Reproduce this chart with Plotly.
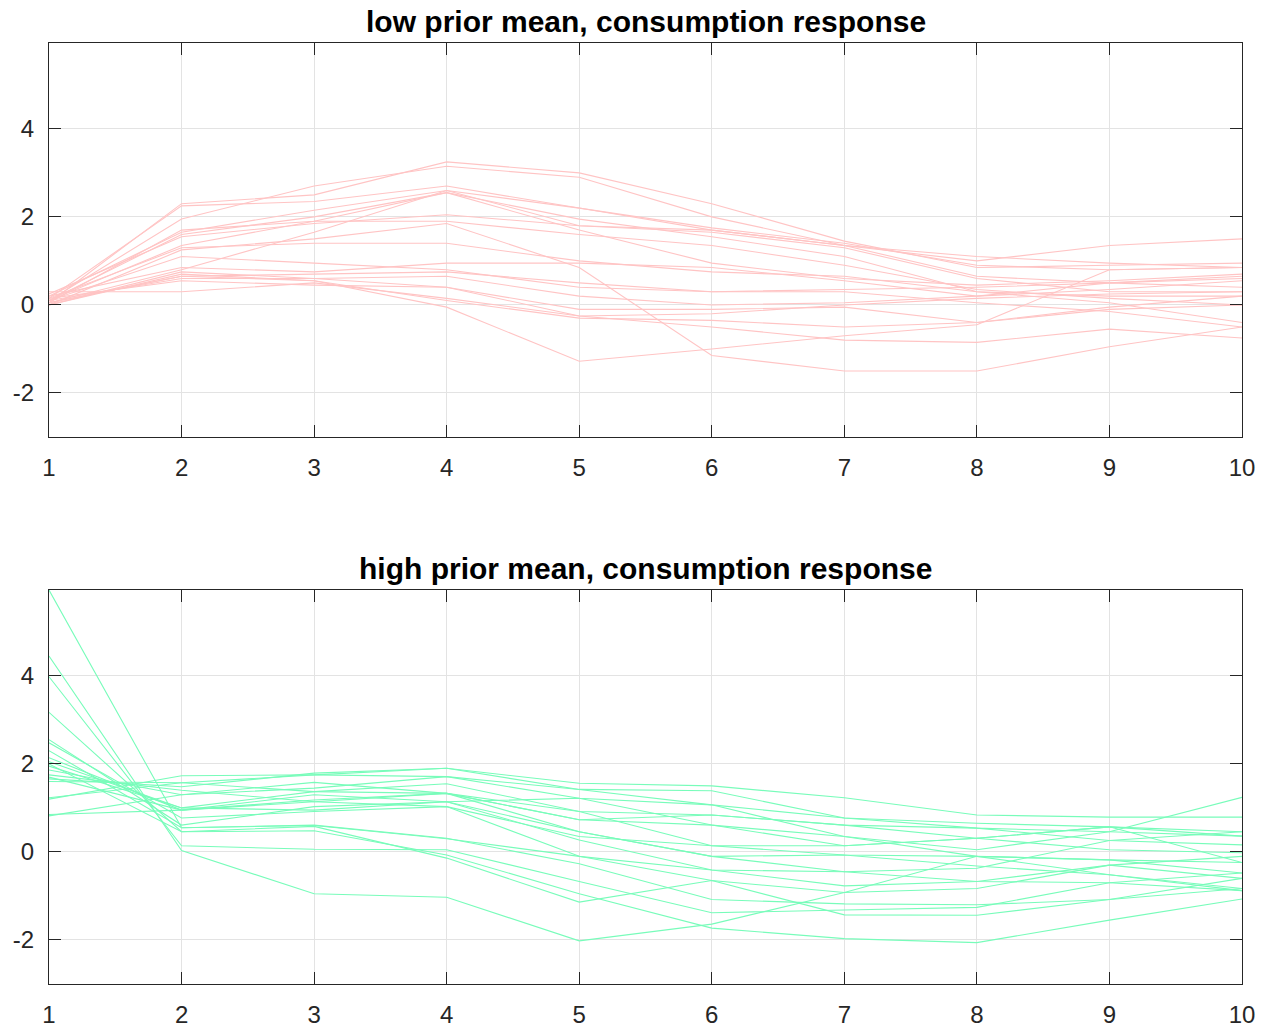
import plotly.graph_objects as go
from plotly.subplots import make_subplots

horizons = [1, 2, 3, 4, 5, 6, 7, 8, 9, 10]

low_prior = [
    [0.05, 2.3, 2.5, 3.25, 3.0, 2.3, 1.45, 0.85, 0.9, 0.95],
    [0.1, 1.95, 2.7, 3.15, 2.9, 2.0, 1.35, 1.1, 0.95, 0.85],
    [0.15, 2.25, 2.35, 2.7, 2.2, 1.7, 1.35, 0.65, 0.5, 0.4],
    [0.2, 1.65, 2.15, 2.6, 2.2, 1.75, 1.4, 0.9, 0.8, 0.85],
    [0.1, 1.6, 2.0, 2.55, 1.95, 1.55, 1.1, 0.3, 0.2, 0.2],
    [0.05, 1.7, 1.9, 2.55, 1.7, 0.95, 0.6, 0.45, 0.55, 0.7],
    [0.05, 0.8, 1.65, 2.6, 1.8, 1.65, 1.3, 0.6, 0.3, 0.3],
    [0.25, 1.55, 1.85, 2.05, 1.8, 1.7, 1.35, 1.0, 1.35, 1.5],
    [0.1, 1.35, 1.9, 1.9, 1.6, 1.35, 0.9, 0.35, 0.15, 0.0],
    [0.0, 1.25, 1.5, 1.85, 0.85, -1.15, -1.5, -1.5, -0.95, -0.5],
    [0.15, 1.3, 1.4, 1.4, 1.0, 0.75, 0.65, 0.3, 0.05, -0.4],
    [0.1, 1.1, 0.95, 0.8, 0.4, 0.3, 0.3, 0.05, -0.15, -0.5],
    [0.2, 0.85, 0.75, 0.95, 0.95, 0.85, 0.55, 0.2, 0.35, 0.55],
    [0.05, 0.65, 0.7, 0.75, 0.5, 0.3, 0.35, 0.4, 0.5, 0.65],
    [0.0, 0.75, 0.6, 0.65, 0.2, 0.0, 0.05, 0.2, 0.5, 0.6],
    [0.1, 0.6, 0.6, 0.4, -0.25, -0.2, 0.0, 0.15, 0.25, 0.3],
    [0.15, 0.55, 0.45, 0.4, -0.1, -0.1, -0.05, -0.4, -0.1, 0.0],
    [0.05, 0.65, 0.55, 0.1, -0.3, -0.35, -0.5, -0.4, -0.05, 0.2],
    [0.0, 0.7, 0.55, -0.05, -1.28, -1.0, -0.7, -0.45, 0.8, 0.85],
    [0.3, 0.3, 0.5, 0.15, -0.25, -0.5, -0.8, -0.85, -0.55, -0.75],
]

high_prior = [
    [5.95, 0.55, 0.6, 0.3, -0.1, -0.41, -0.45, -0.67, -0.7, -0.88],
    [4.45, 0.03, -0.95, -1.03, -2.02, -1.64, -0.92, -0.83, -0.3, -0.6],
    [3.98, 0.14, 0.06, 0.05, -0.67, -1.38, -1.32, -1.26, -0.7, -0.48],
    [3.17, 0.46, 0.48, -0.07, -0.95, -1.73, -1.97, -2.06, -1.55, -1.07],
    [2.55, 0.61, 1.03, 1.14, 0.46, -0.1, -0.07, -0.32, -0.52, -0.83],
    [2.48, 0.77, 0.92, 1.03, 0.35, 0.14, 0.14, 0.31, 0.57, 0.36],
    [2.14, 0.95, 1.18, 1.33, 0.73, 0.61, 0.35, -0.1, -0.18, -0.24],
    [2.05, 1.0, 1.37, 1.55, 0.92, 0.84, 0.61, 0.54, 0.26, 0.16],
    [1.86, 1.3, 1.45, 1.71, 1.22, 1.07, 0.77, 0.65, 0.57, 0.46],
    [1.66, 1.48, 1.79, 1.9, 1.56, 1.5, 1.23, 0.84, 0.79, 0.79],
    [1.23, 1.57, 1.75, 1.9, 1.42, 1.39, 0.77, 0.54, 0.46, 0.36],
    [1.2, 1.73, 1.75, 1.71, 1.42, 1.07, 0.35, 0.05, 0.46, 1.24],
    [0.82, 1.3, 1.58, 1.33, 0.46, -0.1, -0.45, -0.37, 0.26, 0.46],
    [0.85, 0.95, 1.3, 1.14, 0.27, -0.41, -0.77, -0.67, -0.3, -0.1],
    [2.3, 0.55, 0.61, 0.31, -0.27, -1.08, -1.18, -1.2, -1.08, -0.6],
    [1.75, 1.4, 1.14, 1.03, -0.1, -0.65, -1.43, -1.44, -1.08, -0.83],
    [1.95, 1.0, 0.95, 1.14, 1.22, 0.61, 0.14, 0.31, 0.05, -0.02],
    [2.0, 0.46, 0.58, -0.14, -1.14, -0.65, -0.92, -0.1, -0.18, -0.48],
    [1.6, 1.57, 1.37, 1.33, 0.92, 0.14, -0.07, -0.1, -0.52, -0.88],
    [1.7, 0.95, 1.14, 1.33, 0.73, 0.84, 0.61, 0.31, 0.57, -0.24],
]

titles = ["low prior mean, consumption response", "high prior mean, consumption response"]
y_ticks = [-2, 0, 2, 4]
y_tick_labels = ["-2", "0", "2", "4"]
x_tick_labels = [str(h) for h in horizons]

FONT = "Liberation Sans, Arial, Helvetica, sans-serif"

fig = make_subplots(rows=2, cols=1, vertical_spacing=0.1626)

for series in low_prior:
    fig.add_trace(go.Scatter(x=horizons, y=series, mode="lines",
                             line=dict(color="rgb(255,196,196)", width=1.1),
                             showlegend=False, hoverinfo="skip"), row=1, col=1)
for series in high_prior:
    fig.add_trace(go.Scatter(x=horizons, y=series, mode="lines",
                             line=dict(color="rgb(120,252,186)", width=1.1),
                             showlegend=False, hoverinfo="skip"), row=2, col=1)

axis_common = dict(showline=True, linecolor="#262626", linewidth=1, mirror="ticks",
                   ticks="inside", ticklen=12, tickcolor="#262626", automargin=False,
                   showgrid=True, gridcolor="#e3e3e3", gridwidth=1, zeroline=False,
                   tickfont=dict(family=FONT, size=24, color="#262626"))

fig.update_xaxes(range=[1, 10], tickvals=horizons, ticktext=x_tick_labels,
                 ticklabelstandoff=9, **axis_common)
fig.update_yaxes(range=[-3, 5.95], tickvals=y_ticks, ticktext=y_tick_labels,
                 ticklabelstandoff=9, **axis_common)

fig.update_layout(
    width=1270, height=1031,
    margin=dict(l=49, r=28, t=43, b=47),
    paper_bgcolor="white", plot_bgcolor="white",
    yaxis=dict(domain=[0.5813, 1.0]),
    yaxis2=dict(domain=[0.0, 0.4187]),
    annotations=[
        dict(text="<b>" + titles[0] + "</b>", x=0.5, y=1.0, xref="paper", yref="paper",
             xanchor="center", yanchor="bottom", yshift=3, showarrow=False,
             font=dict(family=FONT, size=30, color="black")),
        dict(text="<b>" + titles[1] + "</b>", x=0.5, y=0.4187, xref="paper", yref="paper",
             xanchor="center", yanchor="bottom", yshift=3, showarrow=False,
             font=dict(family=FONT, size=30, color="black")),
    ],
)

fig.write_html("out.html")
